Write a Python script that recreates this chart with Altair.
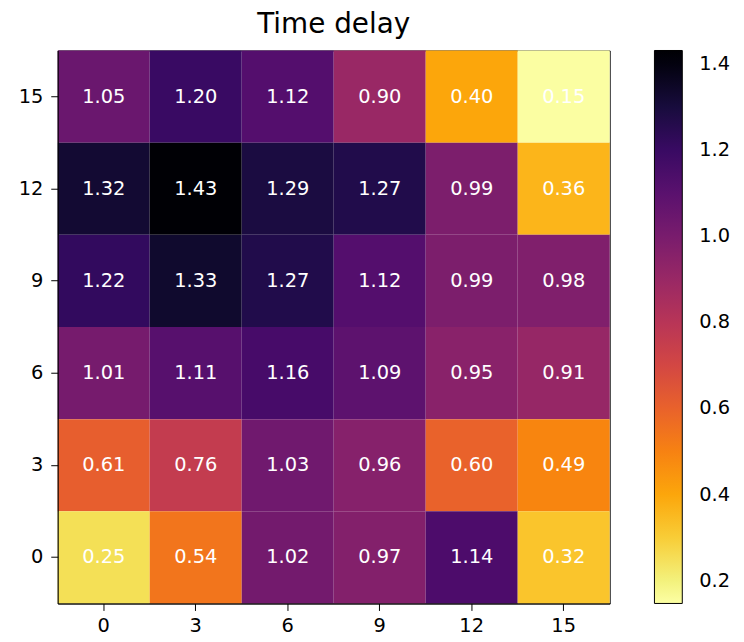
import altair as alt
import pandas as pd

x_vals = [0, 3, 6, 9, 12, 15]
y_vals = [15, 12, 9, 6, 3, 0]
values = [
    [1.05, 1.20, 1.12, 0.90, 0.40, 0.15],
    [1.32, 1.43, 1.29, 1.27, 0.99, 0.36],
    [1.22, 1.33, 1.27, 1.12, 0.99, 0.98],
    [1.01, 1.11, 1.16, 1.09, 0.95, 0.91],
    [0.61, 0.76, 1.03, 0.96, 0.60, 0.49],
    [0.25, 0.54, 1.02, 0.97, 1.14, 0.32],
]
cbar_ticks = [0.2, 0.4, 0.6, 0.8, 1.0, 1.2, 1.4]

rows = []
for yi, yv in enumerate(y_vals):
    for xi, xv in enumerate(x_vals):
        rows.append({"x": xv, "y": yv, "v": values[yi][xi]})
df = pd.DataFrame(rows)

font = "DejaVu Sans"
fs = 19.5
cscale = alt.Scale(scheme="inferno", reverse=True, domain=[0.147, 1.432])

base = alt.Chart(df).encode(
    x=alt.X("x:O", sort=x_vals, title=None,
            axis=alt.Axis(labelAngle=0, labelFontSize=fs, labelFont=font,
                          domainColor="black", tickColor="black", tickSize=7,
                          labelColor="black", labelPadding=6)),
    y=alt.Y("y:O", sort=y_vals, title=None,
            axis=alt.Axis(labelFontSize=fs, labelFont=font,
                          domainColor="black", tickColor="black", tickSize=7,
                          labelColor="black", labelPadding=8)),
)

rect = base.mark_rect().encode(
    color=alt.Color("v:Q", scale=cscale,
                    legend=alt.Legend(title=None, gradientLength=556, gradientThickness=28,
                                      gradientStrokeColor="black", gradientStrokeWidth=1,
                                      values=cbar_ticks,
                                      format=".1f", labelFontSize=fs, labelFont=font,
                                      labelColor="black", offset=45, labelOffset=17,
                                      padding=0)),
)

text = base.mark_text(fontSize=fs, font=font, color="white").encode(
    text=alt.Text("v:Q", format=".2f")
)

chart = (rect + text).properties(
    width=555, height=556,
    padding={"left": 10, "top": 1, "right": 5, "bottom": 0},
    title=alt.TitleParams("Time delay", fontSize=28, font=font, fontWeight="normal",
                          color="black", offset=12),
).configure_view(stroke="black", strokeWidth=1)

chart.save("out.html", embed_options={"renderer": "svg", "actions": False})
